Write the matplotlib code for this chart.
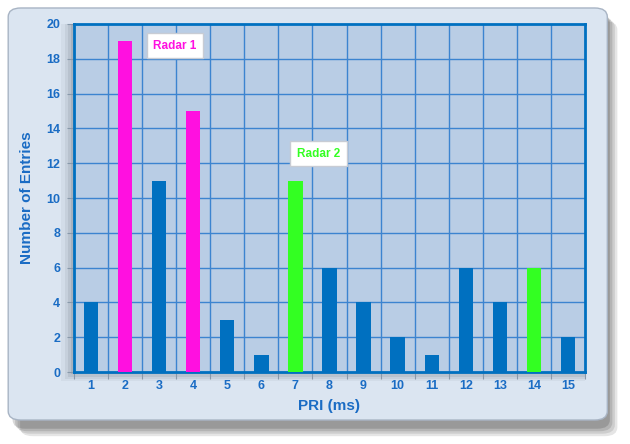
import matplotlib.pyplot as plt
import numpy as np
from matplotlib.patches import FancyBboxPatch, Rectangle

plt.rcParams['font.family'] = ['Liberation Sans', 'DejaVu Sans']

pri = np.arange(1, 16)
entries = [4, 19, 11, 15, 3, 1, 11, 6, 4, 2, 1, 6, 4, 6, 2]
radar1 = [2, 4]
radar2 = [7, 14]

blue = '#0070c0'
magenta = '#ff10e0'
green = '#33ff22'
text_blue = '#1a6cc4'

colors = []
for p in pri:
    if p in radar1:
        colors.append(magenta)
    elif p in radar2:
        colors.append(green)
    else:
        colors.append(blue)

fig = plt.figure(figsize=(6.3, 4.44), dpi=100)
fig.patch.set_facecolor('white')

# panel shadow + panel
for k, a in enumerate([0.10, 0.10, 0.12, 0.15]):
    off = (4 - k) * 0.004
    fig.patches.append(FancyBboxPatch((0.016 + off, 0.04 - off * 1.4), 0.948, 0.935,
                                      boxstyle='round,pad=0,rounding_size=0.02',
                                      transform=fig.transFigure, facecolor='black',
                                      edgecolor='none', alpha=a, zorder=0))
fig.patches.append(FancyBboxPatch((0.013, 0.054), 0.951, 0.928,
                                  boxstyle='round,pad=0,rounding_size=0.02',
                                  transform=fig.transFigure, facecolor='#dbe5f1',
                                  edgecolor='#a8b4c4', linewidth=1, zorder=1))

ax_pos = [0.1175, 0.162, 0.811, 0.784]
# plot area shadow
for k, a in enumerate([0.05, 0.07, 0.09, 0.12]):
    off = (4 - k) * 0.005
    fig.patches.append(Rectangle((ax_pos[0] - off, ax_pos[1] - off), ax_pos[2] + off, ax_pos[3] + off,
                                 transform=fig.transFigure, facecolor='#303a4a',
                                 edgecolor='none', alpha=a, zorder=2))

ax = fig.add_axes(ax_pos)
ax.set_facecolor('#b9cde5')
ax.set_zorder(3)

ax.bar(pri, entries, width=0.42, color=colors, zorder=3)

ax.set_xlim(0.5, 15.5)
ax.set_ylim(0, 20)
ax.set_yticks(np.arange(0, 21, 2))
ax.set_xticks(pri)
ax.set_xticks(np.arange(0.5, 16, 1), minor=True)
ax.grid(False)
for b in np.arange(1.5, 15.5, 1):
    ax.axvline(b, color='#3c84d0', linewidth=1, zorder=1)
for y in np.arange(2, 20, 2):
    ax.axhline(y, color='#3c84d0', linewidth=1, zorder=1)

ax.tick_params(axis='x', which='major', length=0, pad=6, labelsize=9, labelcolor=text_blue)
ax.tick_params(axis='x', which='minor', length=5, color='#8899aa', width=0.8)
ax.tick_params(axis='y', length=5, color='#8899aa', labelsize=9, labelcolor=text_blue, pad=5)
for lbl in ax.get_xticklabels() + ax.get_yticklabels():
    lbl.set_fontweight('bold')

for s in ax.spines.values():
    s.set_color(blue)
    s.set_linewidth(2)

ax.set_xlabel('PRI (ms)', fontsize=11, fontweight='bold', color=text_blue, labelpad=5)
ax.set_ylabel('Number of Entries', fontsize=11, fontweight='bold', color=text_blue, labelpad=9)

box = dict(boxstyle='square,pad=0.55', facecolor='white', edgecolor='#c8ccd4', linewidth=1)
ax.text(3.46, 18.74, 'Radar 1', color=magenta, fontsize=8.5, fontweight='bold',
        ha='center', va='center', bbox=box, zorder=5)
ax.text(7.68, 12.53, 'Radar 2', color=green, fontsize=8.5, fontweight='bold',
        ha='center', va='center', bbox=box, zorder=5)

fig.savefig('out.png', dpi=100, facecolor=fig.get_facecolor())
